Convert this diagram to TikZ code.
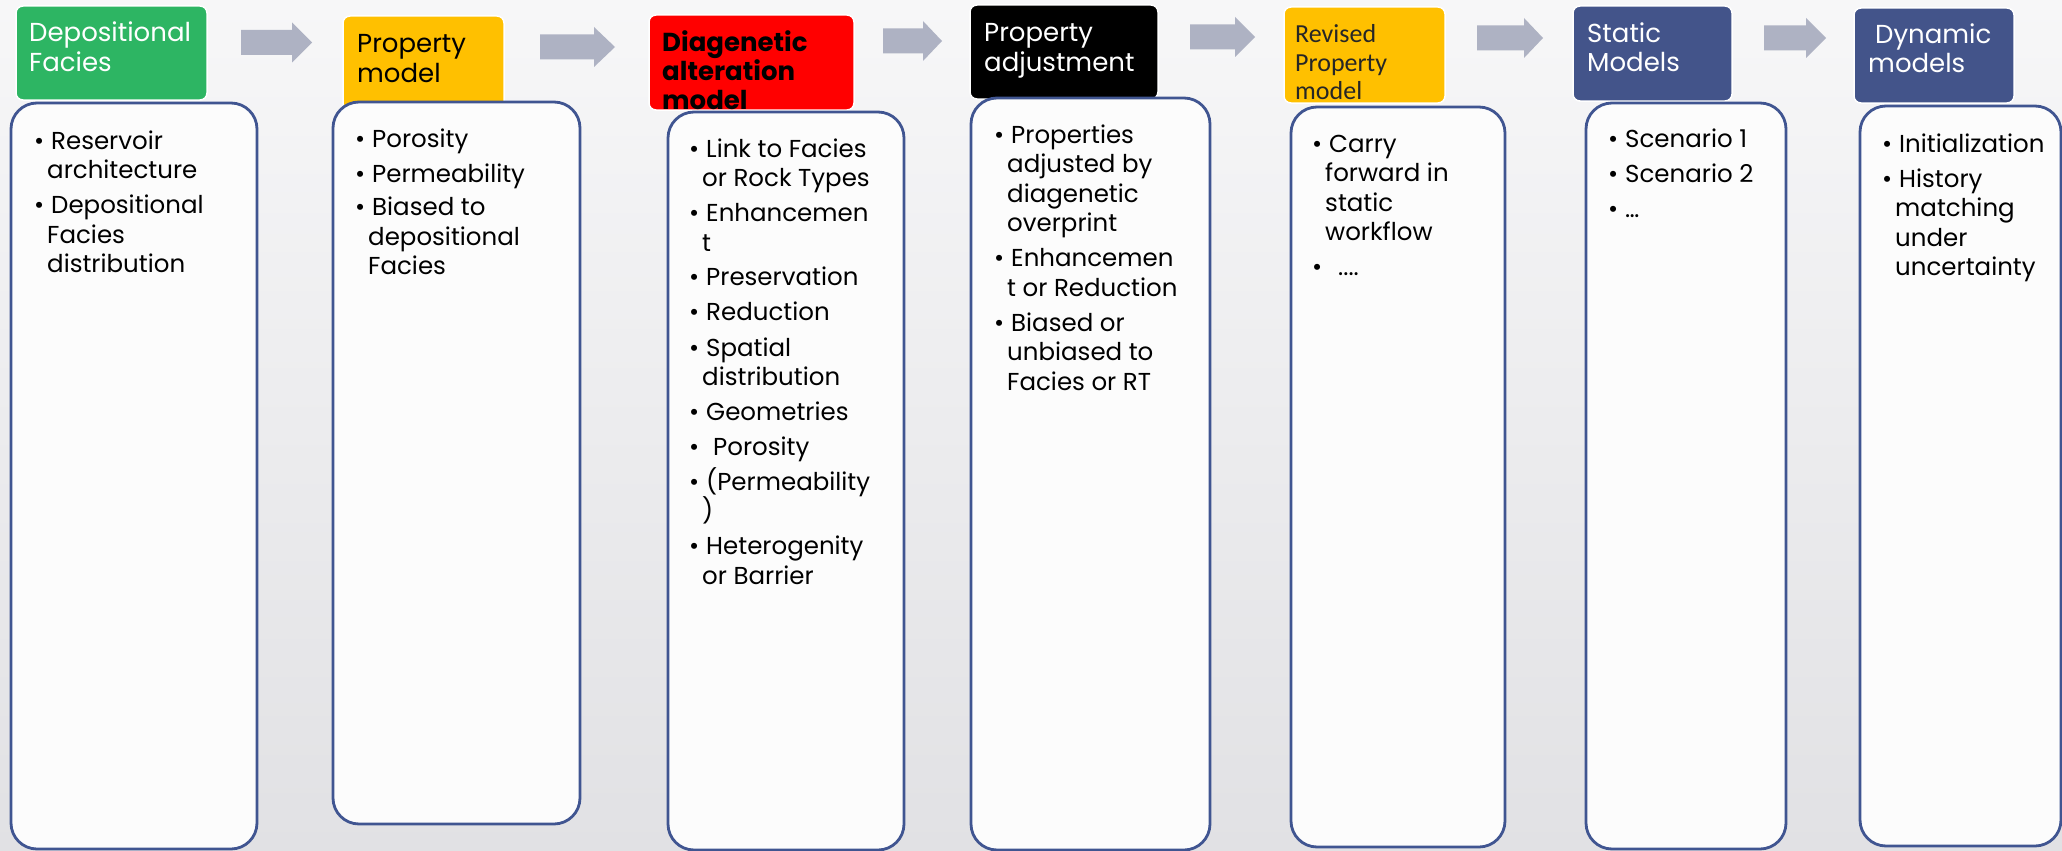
\documentclass[tikz,border=0pt]{standalone}
\usepackage{fontspec}
\setmainfont{Poppins}
\newfontfamily\calfont{Carlito}
\usepackage{tikz}
\usetikzlibrary{positioning}
\definecolor{faciesgreen}{HTML}{2DB563}
\definecolor{propyellow}{HTML}{FFC000}
\definecolor{modelblue}{HTML}{43548A}
\definecolor{cardline}{HTML}{405591}
\definecolor{cardfill}{HTML}{FCFCFC}
\definecolor{arrowgray}{HTML}{AEB2C3}
\definecolor{bgtop}{HTML}{F7F7F8}
\definecolor{bgbottom}{HTML}{E1E1E4}
\newcommand\bul{\leavevmode\llap{\textbullet\hspace{3pt}}\hspace{4pt}}
\newcommand\lines[1]{\parbox[t]{300pt}{\raggedright #1}}

\begin{document}
\begin{tikzpicture}[x=1pt,y=-1pt,
  head/.style={rounded corners=7pt,draw=white,line width=1.5pt},
  card/.style={draw=cardline,line width=2.8pt,fill=cardfill,rounded corners=26pt},
  htext/.style={anchor=base west,inner sep=0pt,font=\fontsize{26}{29}\selectfont},
  btext/.style={anchor=base west,inner sep=0pt,font=\fontsize{24.5}{29.5}\selectfont}]
  \shade[top color=bgtop,bottom color=bgbottom] (0,0) rectangle (2062,851);
  \useasboundingbox (0,0) rectangle (2062,851);
  \foreach \xa/\xh/\xb/\ym in {241/292/312/42.5,540/594/615/47,883/923/942/41,1190/1235/1255/37,1477/1524/1543/38,1764/1806/1826/38}{
    \fill[arrowgray] (\xa,\ym-12.5) -- (\xh,\ym-12.5) -- (\xh,\ym-20) -- (\xb,\ym) -- (\xh,\ym+20) -- (\xh,\ym+12.5) -- (\xa,\ym+12.5) -- cycle;}
  \filldraw[head,fill=faciesgreen] (16,6) rectangle (207,100);
  \filldraw[head,fill=propyellow] (343,16) rectangle (504,110);
  \filldraw[head,fill=red] (649,15) rectangle (854,110);
  \filldraw[head,fill=black] (970,5) rectangle (1158,99);
  \filldraw[head,fill=propyellow] (1284,7) rectangle (1445,103);
  \filldraw[head,fill=modelblue] (1573,6) rectangle (1732,101);
  \filldraw[head,fill=modelblue] (1854,8) rectangle (2014,103);
  \node[htext,text=white] (facies) at (29,42) {\lines{Depositional\\Facies}};
  \node[htext] (property) at (357,53) {\lines{Property\\model}};
  \node[htext,font=\fontsize{26}{29}\selectfont\bfseries] (diagenetic) at (662,52) {\lines{Diagenetic\\alteration\\model}};
  \node[htext,text=white] (adjust) at (984,42) {\lines{Property\\adjustment}};
  \node[htext,font=\calfont\fontsize{26}{28.5}\selectfont,text=black!85] (revised) at (1295,43) {\lines{Revised\\Property\\model}};
  \node[htext,text=white] (static) at (1587,43) {\lines{Static\\Models}};
  \node[htext,text=white] (dynamic) at (1868,44) {\lines{\hspace*{7pt}Dynamic\\models}};
  \filldraw[card] (11,103) rectangle (257,849);
  \filldraw[card] (333,102) rectangle (580,824);
  \filldraw[card] (668,112) rectangle (904,850);
  \filldraw[card] (971,98) rectangle (1210,850);
  \filldraw[card] (1291,107) rectangle (1505,847);
  \filldraw[card] (1586,103) rectangle (1786,849);
  \filldraw[card] (1860,106) rectangle (2061,846);
  \node[btext] (faciesitems) at (47,149) {\lines{\bul Reservoir\\architecture\\[5.5pt]\bul Depositional\\Facies\\distribution}};
  \node[btext] (propertyitems) at (368,147) {\lines{\bul Porosity\\[5.5pt]\bul Permeability\\[4pt]\bul Biased to\\depositional\\Facies}};
  \node[btext] (diageneticitems) at (702,157) {\lines{\bul Link to Facies\\or Rock Types\\[5.5pt]\bul Enhancemen\\t\\[5.5pt]\bul Preservation\\[5.5pt]\bul Reduction\\[5.5pt]\bul Spatial\\distribution\\[5.5pt]\bul Geometries\\[5.5pt]\bul\hspace{7pt}Porosity\\[5.5pt]\bul(Permeability\\)\\[5.5pt]\bul Heterogenity\\or Barrier}};
  \node[btext] (adjustitems) at (1007,143) {\lines{\bul Properties\\adjusted by\\diagenetic\\overprint\\[5.5pt]\bul Enhancemen\\t or Reduction\\[5.5pt]\bul Biased or\\unbiased to\\Facies or RT}};
  \node[btext] (reviseditems) at (1325,152) {\lines{\bul Carry\\forward in\\static\\workflow\\[5.5pt]\bul\hspace{9pt}....}};
  \node[btext] (staticitems) at (1621,147) {\lines{\bul Scenario 1\\[5.5pt]\bul Scenario 2\\[5.5pt]\bul …}};
  \node[btext] (dynamicitems) at (1895,152) {\lines{\bul Initialization\\[5.5pt]\bul History\\matching\\under\\uncertainty}};
\end{tikzpicture}
\end{document}
